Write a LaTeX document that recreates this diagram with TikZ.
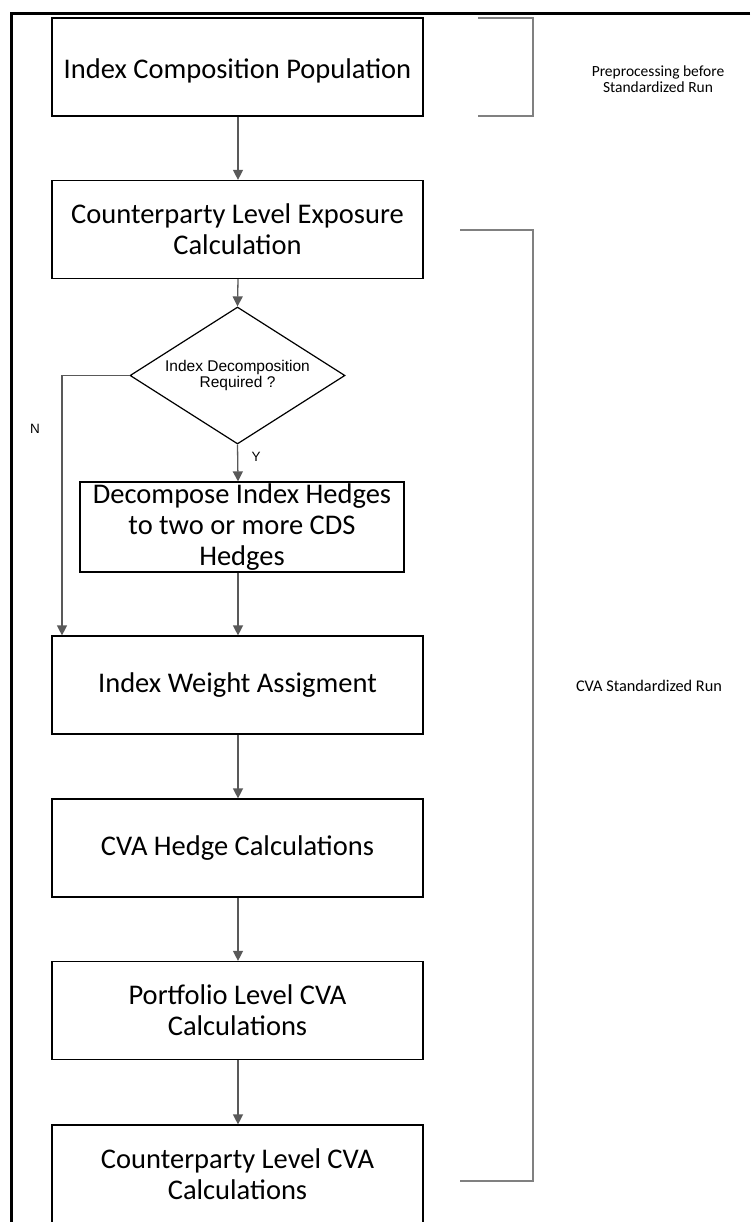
\documentclass[tikz,border=0pt]{standalone}
\usepackage{fontspec}
\setmainfont{Carlito}
\newfontfamily\arialf{Liberation Sans}
\usetikzlibrary{arrows.meta,shapes.geometric,calc}
\definecolor{arrgray}{HTML}{595959}
\definecolor{brgray}{HTML}{808080}
\begin{document}
\begin{tikzpicture}[x=1pt,y=-1pt,
  procbox/.style={draw=black,line width=1.2pt,rectangle,minimum width=371pt,minimum height=98pt,inner sep=0pt,align=center,font=\fontsize{28.5}{31}\selectfont},
  flow/.style={draw=arrgray,line width=1.3pt,-{Triangle[width=10pt,length=10pt]}},
  brace/.style={draw=brgray,line width=1.4pt},
  sidetext/.style={align=center,font=\fontsize{15.5}{16}\selectfont},
  yn/.style={font=\arialf\fontsize{13.5}{15}\selectfont}]
\useasboundingbox (0,0) rectangle (750,1222);
\clip (0,0) rectangle (750,1222);
% frame
\draw[line width=3pt] (750,14) -- (11,14) -- (11,1225);
% boxes
\node[procbox,text height=29pt,text depth=6pt] (b1) at (237.5,67) {Index Composition Population};
\node[procbox] (b2) at (237.5,229.5) {Counterparty Level Exposure\\Calculation};
\node[draw=black,line width=1.2pt,diamond,minimum width=215pt,minimum height=137pt,inner sep=0pt] (d) at (237.5,375.5) {};
\node[align=center,font=\arialf\fontsize{15.5}{16}\selectfont] (dt) at (d.center) {Index Decomposition\\Required ?};
\node[procbox,minimum width=324pt,minimum height=90pt] (b3) at (242,527) {Decompose Index Hedges\\to two or more CDS\\Hedges};
\node[procbox] (b4) at (237.5,685) {Index Weight Assigment};
\node[procbox] (b5) at (237.5,848) {CVA Hedge Calculations};
\node[procbox] (b6) at (237.5,1010.5) {Portfolio Level CVA\\Calculations};
\node[procbox] (b7) at (237.5,1174) {Counterparty Level CVA\\Calculations};
% arrows
\coordinate (ax) at (238,0);
\coordinate (nx) at (62,0);
\draw[flow] (b1.south -| ax) -- (b2.north -| ax);
\draw[flow] (b2.south -| ax) -- (d.north);
\draw[flow] (d.south) -- (b3.north -| ax);
\draw[flow] (b3.south -| ax) -- (b4.north -| ax);
\draw[flow] (d.west) -- (d.west -| nx) -- (b4.north -| nx);
\draw[flow] (b4.south -| ax) -- (b5.north -| ax);
\draw[flow] (b5.south -| ax) -- (b6.north -| ax);
\draw[flow] (b6.south -| ax) -- (b7.north -| ax);
\node[yn] (lN) at (35,429) {N};
\node[yn] (lY) at (256,457) {Y};
% brackets
\coordinate (p1) at (478,18);
\coordinate (p2) at (533,18);
\coordinate (p3) at (533,116);
\coordinate (p4) at (478,116);
\draw[brace] (p1) -- (p2) -- (p3) -- (p4);
\coordinate (q1) at (460,230);
\coordinate (q2) at (533,230);
\coordinate (q3) at (533,1181);
\coordinate (q4) at (460,1181);
\draw[brace] (q1) -- (q2) -- (q3) -- (q4);
\node[sidetext] (t1) at (658,79) {Preprocessing before\\Standardized Run};
\node[sidetext,font=\fontsize{16.3}{17}\selectfont] (t2) at (649,686) {CVA Standardized Run};
\end{tikzpicture}
\end{document}
